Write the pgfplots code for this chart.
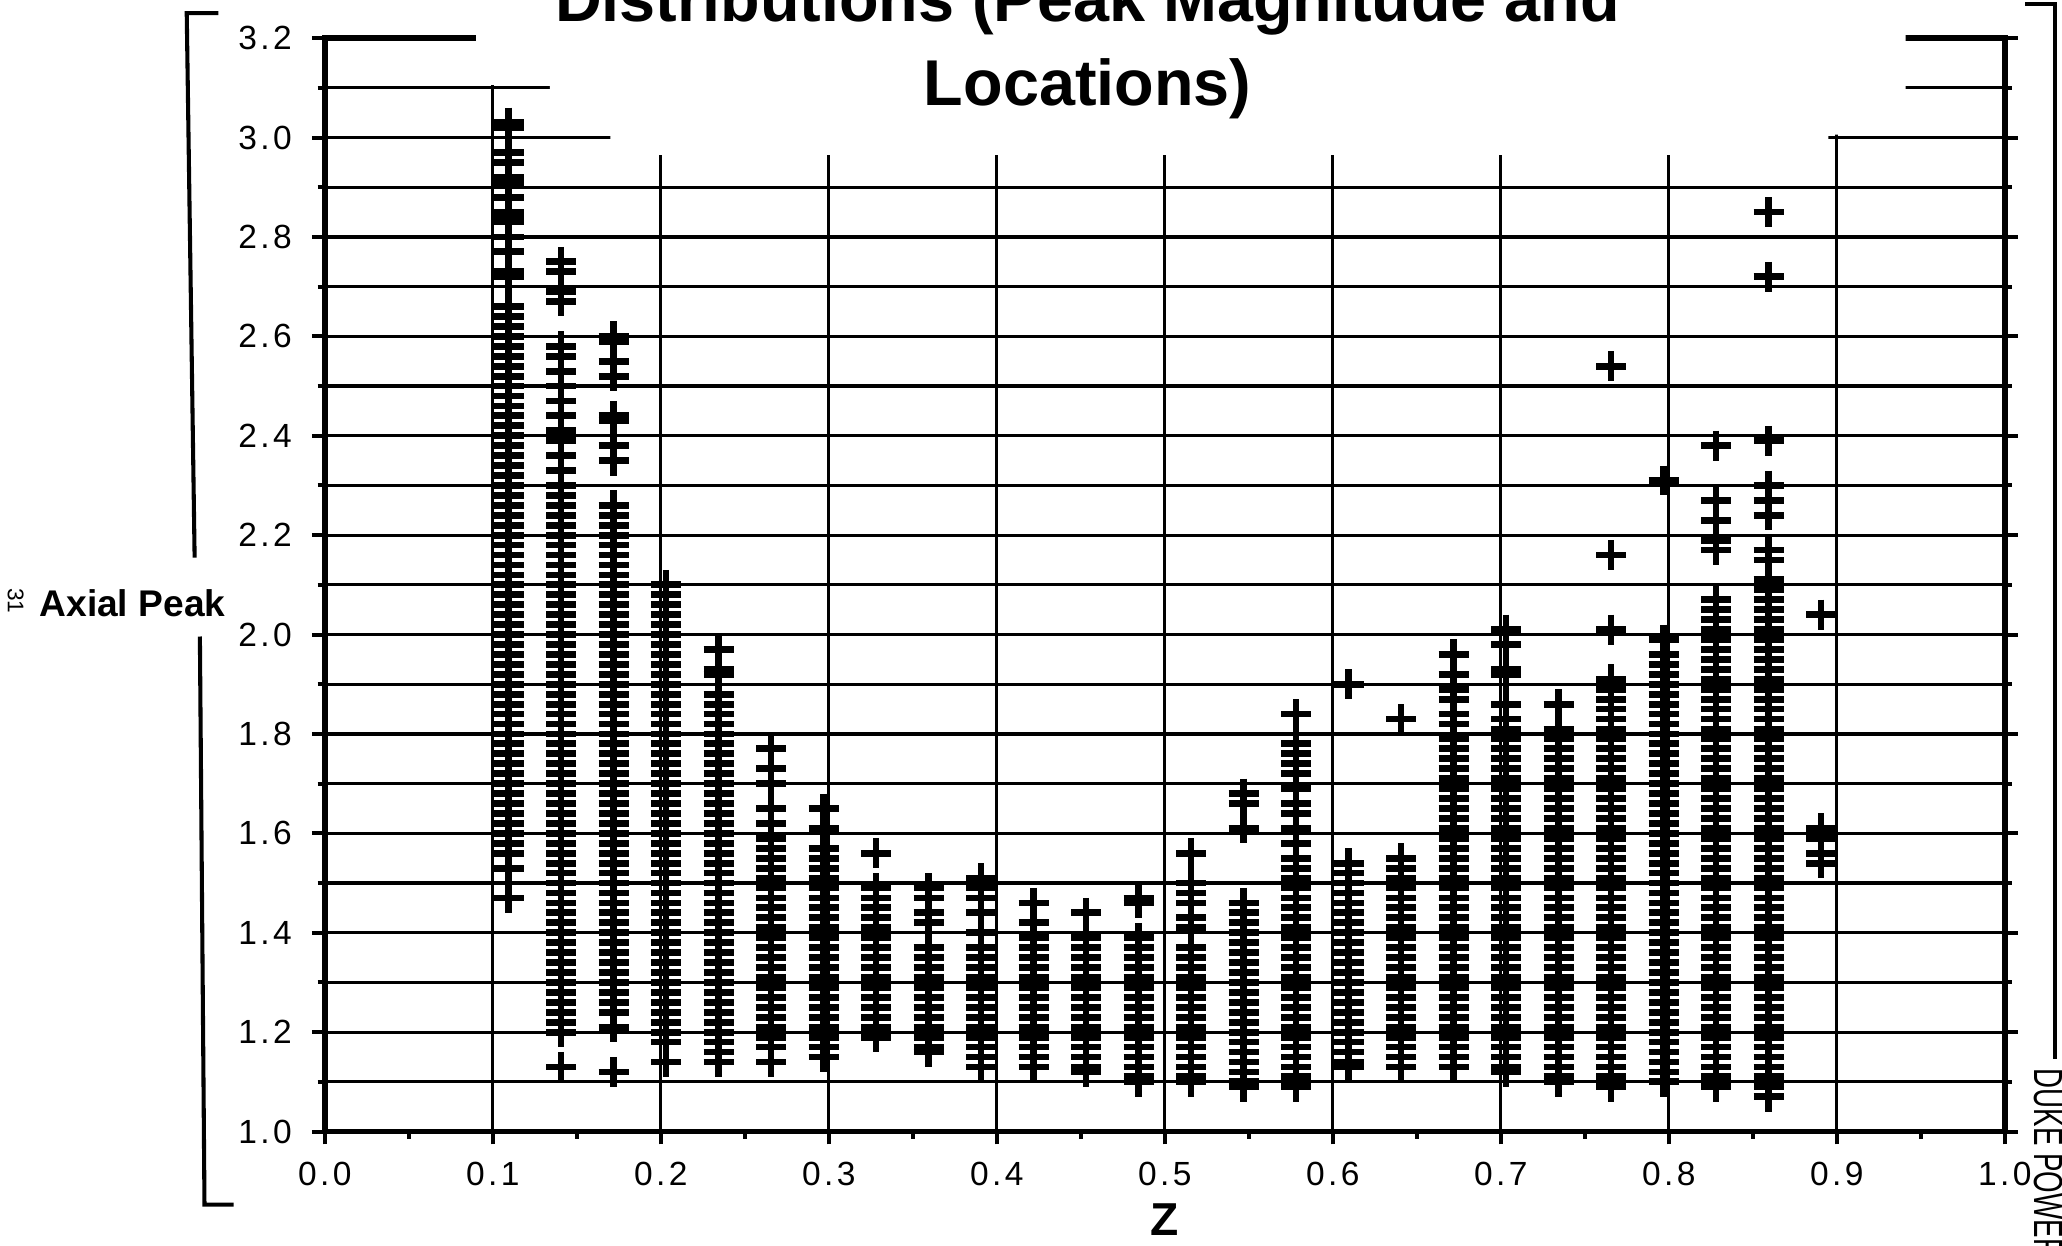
\documentclass[border=0pt]{standalone}
\usepackage{pgfplots}
\pgfplotsset{compat=1.18}
\usepackage{fontspec}
\setmainfont{Liberation Sans}
\newfontfamily\tickfont[LetterSpace=10]{Liberation Sans}
\pgfplotsset{col/.style={only marks, mark=+, mark size=3.3pt, black, mark options={line width=1.5pt}}}
\newcommand{\col}[2]{\addplot[col] table[row sep=\\, header=false, x expr=#1, y index=0] {#2};}
\begin{document}
\begin{tikzpicture}
\begin{axis}[
  scale only axis, width=13.04cm, height=8.487cm,
  xmin=0, xmax=1, ymin=1, ymax=3.2,
  clip=false,
  xtick={0,0.1,0.2,0.3,0.4,0.5,0.6,0.7,0.8,0.9,1},
  xticklabels={0.0,0.1,0.2,0.3,0.4,0.5,0.6,0.7,0.8,0.9,1.0},
  ytick={1,1.2,1.4,1.6,1.8,2,2.2,2.4,2.6,2.8,3,3.2},
  yticklabels={1.0,1.2,1.4,1.6,1.8,2.0,2.2,2.4,2.6,2.8,3.0,3.2},
  minor x tick num=1, minor y tick num=1,
  xmajorgrids, ymajorgrids, yminorgrids,
  major grid style={line width=0.7pt, black},
  minor grid style={line width=0.7pt, black},
  tick align=outside,
  xtick pos=left, ytick pos=both,
  major tick length=0.1cm, minor tick length=0.055cm,
  every tick/.style={line width=0.9pt, black},
  axis line style={line width=1.2pt},
  tick label style={font=\fontsize{7.4}{8}\tickfont},
  xticklabel style={anchor=north, inner sep=0pt, yshift=-0.13cm},
  yticklabel style={anchor=east, inner sep=0pt, xshift=-0.15cm},
  xlabel={Z}, ylabel={Axial Peak},
  every axis x label/.style={at={(rel axis cs:0.5,0)}, anchor=base, inner sep=0pt, yshift=-0.806cm, font=\fontsize{10.2}{12}\selectfont\bfseries},
  every axis y label/.style={at={(rel axis cs:0,0.4712)}, anchor=base east, inner sep=0pt, xshift=-0.765cm, font=\fontsize{8.2}{10}\selectfont\bfseries},
]
\fill[white] (axis cs:0.09,3.35) -- (axis cs:0.09,3.106) -- (axis cs:0.134,3.106) -- (axis cs:0.134,3.006) -- (axis cs:0.17,3.006) -- (axis cs:0.17,2.965) -- (axis cs:0.895,2.965) -- (axis cs:0.895,3.006) -- (axis cs:0.941,3.006) -- (axis cs:0.941,3.35) -- cycle;
\col{0.1094}{3.03\\3.02\\2.97\\2.95\\2.92\\2.91\\2.88\\2.85\\2.84\\2.83\\2.80\\2.77\\2.73\\2.72\\2.66\\2.64\\2.62\\2.60\\2.58\\2.56\\2.54\\2.52\\2.50\\2.48\\2.46\\2.44\\2.42\\2.40\\2.38\\2.36\\2.34\\2.32\\2.30\\2.28\\2.26\\2.24\\2.22\\2.20\\2.18\\2.16\\2.14\\2.12\\2.10\\2.08\\2.06\\2.04\\2.02\\2.00\\1.98\\1.96\\1.94\\1.92\\1.90\\1.88\\1.86\\1.84\\1.82\\1.80\\1.78\\1.76\\1.74\\1.72\\1.70\\1.68\\1.66\\1.64\\1.62\\1.60\\1.58\\1.56\\1.53\\1.47\\}
\col{0.1406}{2.75\\2.73\\2.69\\2.67\\2.58\\2.56\\2.53\\2.50\\2.47\\2.44\\2.41\\2.39\\2.36\\2.33\\2.30\\2.28\\2.26\\2.24\\2.22\\2.20\\2.18\\2.16\\2.14\\2.12\\2.10\\2.08\\2.06\\2.04\\2.02\\2.00\\1.98\\1.96\\1.94\\1.92\\1.90\\1.88\\1.86\\1.84\\1.82\\1.80\\1.78\\1.76\\1.74\\1.72\\1.70\\1.68\\1.66\\1.64\\1.62\\1.60\\1.58\\1.56\\1.54\\1.52\\1.50\\1.48\\1.46\\1.44\\1.42\\1.40\\1.38\\1.36\\1.34\\1.32\\1.30\\1.28\\1.26\\1.24\\1.22\\1.20\\1.13\\}
\col{0.1719}{2.60\\2.59\\2.55\\2.52\\2.44\\2.43\\2.38\\2.35\\2.26\\2.24\\2.22\\2.20\\2.18\\2.16\\2.14\\2.12\\2.10\\2.08\\2.06\\2.04\\2.02\\2.00\\1.98\\1.96\\1.94\\1.92\\1.90\\1.88\\1.86\\1.84\\1.82\\1.80\\1.78\\1.76\\1.74\\1.72\\1.70\\1.68\\1.66\\1.64\\1.62\\1.60\\1.58\\1.56\\1.54\\1.52\\1.50\\1.48\\1.46\\1.44\\1.42\\1.40\\1.38\\1.36\\1.34\\1.32\\1.30\\1.28\\1.26\\1.24\\1.21\\1.12\\}
\col{0.2031}{2.10\\2.08\\2.06\\2.04\\2.02\\2.00\\1.98\\1.96\\1.94\\1.92\\1.90\\1.88\\1.86\\1.84\\1.82\\1.80\\1.78\\1.76\\1.74\\1.72\\1.70\\1.68\\1.66\\1.64\\1.62\\1.60\\1.58\\1.56\\1.54\\1.52\\1.50\\1.48\\1.46\\1.44\\1.42\\1.40\\1.38\\1.36\\1.34\\1.32\\1.30\\1.28\\1.26\\1.24\\1.22\\1.20\\1.18\\1.14\\}
\col{0.2344}{1.97\\1.93\\1.92\\1.88\\1.86\\1.84\\1.82\\1.80\\1.78\\1.76\\1.74\\1.72\\1.70\\1.68\\1.66\\1.64\\1.62\\1.60\\1.58\\1.56\\1.54\\1.52\\1.50\\1.48\\1.46\\1.44\\1.42\\1.40\\1.38\\1.36\\1.34\\1.32\\1.30\\1.28\\1.26\\1.24\\1.22\\1.20\\1.18\\1.16\\1.14\\}
\col{0.2656}{1.77\\1.73\\1.70\\1.65\\1.62\\1.59\\1.57\\1.55\\1.53\\1.51\\1.49\\1.47\\1.45\\1.43\\1.41\\1.39\\1.37\\1.35\\1.33\\1.31\\1.29\\1.27\\1.25\\1.23\\1.21\\1.19\\1.17\\1.14\\}
\col{0.2969}{1.65\\1.61\\1.57\\1.55\\1.53\\1.51\\1.49\\1.47\\1.45\\1.43\\1.41\\1.39\\1.37\\1.35\\1.33\\1.31\\1.29\\1.27\\1.25\\1.23\\1.21\\1.19\\1.17\\1.15\\}
\col{0.3281}{1.56\\1.49\\1.47\\1.45\\1.43\\1.41\\1.39\\1.37\\1.35\\1.33\\1.31\\1.29\\1.27\\1.25\\1.23\\1.21\\1.19\\}
\col{0.3594}{1.49\\1.47\\1.44\\1.42\\1.37\\1.35\\1.33\\1.31\\1.29\\1.27\\1.25\\1.23\\1.21\\1.19\\1.17\\1.16\\}
\col{0.3906}{1.51\\1.49\\1.47\\1.44\\1.40\\1.37\\1.35\\1.33\\1.31\\1.29\\1.27\\1.25\\1.23\\1.21\\1.19\\1.17\\1.15\\1.13\\}
\col{0.4219}{1.46\\1.42\\1.39\\1.37\\1.35\\1.33\\1.31\\1.29\\1.27\\1.25\\1.23\\1.21\\1.19\\1.17\\1.15\\1.13\\}
\col{0.4531}{1.44\\1.39\\1.37\\1.35\\1.33\\1.31\\1.29\\1.27\\1.25\\1.23\\1.21\\1.19\\1.17\\1.15\\1.13\\1.12\\}
\col{0.4844}{1.47\\1.46\\1.39\\1.37\\1.35\\1.33\\1.31\\1.29\\1.27\\1.25\\1.23\\1.21\\1.19\\1.17\\1.15\\1.13\\1.11\\1.10\\}
\col{0.5156}{1.56\\1.50\\1.48\\1.46\\1.43\\1.41\\1.37\\1.35\\1.33\\1.31\\1.29\\1.27\\1.25\\1.23\\1.21\\1.19\\1.17\\1.15\\1.13\\1.11\\1.10\\}
\col{0.5469}{1.68\\1.66\\1.61\\1.46\\1.44\\1.42\\1.40\\1.38\\1.36\\1.34\\1.32\\1.30\\1.28\\1.26\\1.24\\1.22\\1.20\\1.18\\1.16\\1.14\\1.12\\1.10\\1.09\\}
\col{0.5781}{1.84\\1.78\\1.76\\1.74\\1.72\\1.69\\1.66\\1.64\\1.61\\1.58\\1.55\\1.53\\1.51\\1.49\\1.47\\1.45\\1.43\\1.41\\1.39\\1.37\\1.35\\1.33\\1.31\\1.29\\1.27\\1.25\\1.23\\1.21\\1.19\\1.17\\1.15\\1.13\\1.11\\1.09\\}
\col{0.6094}{1.90\\1.54\\1.52\\1.50\\1.48\\1.46\\1.44\\1.42\\1.40\\1.38\\1.36\\1.34\\1.32\\1.30\\1.28\\1.26\\1.24\\1.22\\1.20\\1.18\\1.16\\1.14\\1.13\\}
\col{0.6406}{1.83\\1.55\\1.53\\1.51\\1.49\\1.47\\1.45\\1.43\\1.41\\1.39\\1.37\\1.35\\1.33\\1.31\\1.29\\1.27\\1.25\\1.23\\1.21\\1.19\\1.17\\1.15\\1.13\\}
\col{0.6719}{1.96\\1.92\\1.89\\1.87\\1.84\\1.82\\1.79\\1.77\\1.75\\1.73\\1.71\\1.69\\1.67\\1.65\\1.63\\1.61\\1.59\\1.57\\1.55\\1.53\\1.51\\1.49\\1.47\\1.45\\1.43\\1.41\\1.39\\1.37\\1.35\\1.33\\1.31\\1.29\\1.27\\1.25\\1.23\\1.21\\1.19\\1.17\\1.15\\1.13\\}
\col{0.7031}{2.01\\1.98\\1.93\\1.92\\1.86\\1.83\\1.81\\1.79\\1.77\\1.75\\1.73\\1.71\\1.69\\1.67\\1.65\\1.63\\1.61\\1.59\\1.57\\1.55\\1.53\\1.51\\1.49\\1.47\\1.45\\1.43\\1.41\\1.39\\1.37\\1.35\\1.33\\1.31\\1.29\\1.27\\1.25\\1.23\\1.21\\1.19\\1.17\\1.15\\1.13\\1.12\\}
\col{0.7344}{1.86\\1.81\\1.79\\1.77\\1.75\\1.73\\1.71\\1.69\\1.67\\1.65\\1.63\\1.61\\1.59\\1.57\\1.55\\1.53\\1.51\\1.49\\1.47\\1.45\\1.43\\1.41\\1.39\\1.37\\1.35\\1.33\\1.31\\1.29\\1.27\\1.25\\1.23\\1.21\\1.19\\1.17\\1.15\\1.13\\1.11\\1.10\\}
\col{0.7656}{2.54\\2.16\\2.01\\1.91\\1.89\\1.87\\1.85\\1.83\\1.81\\1.79\\1.77\\1.75\\1.73\\1.71\\1.69\\1.67\\1.65\\1.63\\1.61\\1.59\\1.57\\1.55\\1.53\\1.51\\1.49\\1.47\\1.45\\1.43\\1.41\\1.39\\1.37\\1.35\\1.33\\1.31\\1.29\\1.27\\1.25\\1.23\\1.21\\1.19\\1.17\\1.15\\1.13\\1.11\\1.09\\}
\col{0.7969}{2.31\\1.99\\1.96\\1.94\\1.92\\1.90\\1.88\\1.86\\1.84\\1.82\\1.80\\1.78\\1.76\\1.74\\1.72\\1.70\\1.68\\1.66\\1.64\\1.62\\1.60\\1.58\\1.56\\1.54\\1.52\\1.50\\1.48\\1.46\\1.44\\1.42\\1.40\\1.38\\1.36\\1.34\\1.32\\1.30\\1.28\\1.26\\1.24\\1.22\\1.20\\1.18\\1.16\\1.14\\1.12\\1.10\\}
\col{0.8281}{2.38\\2.27\\2.23\\2.19\\2.17\\2.07\\2.05\\2.03\\2.01\\1.99\\1.97\\1.95\\1.93\\1.91\\1.89\\1.87\\1.85\\1.83\\1.81\\1.79\\1.77\\1.75\\1.73\\1.71\\1.69\\1.67\\1.65\\1.63\\1.61\\1.59\\1.57\\1.55\\1.53\\1.51\\1.49\\1.47\\1.45\\1.43\\1.41\\1.39\\1.37\\1.35\\1.33\\1.31\\1.29\\1.27\\1.25\\1.23\\1.21\\1.19\\1.17\\1.15\\1.13\\1.11\\1.09\\}
\col{0.8594}{2.85\\2.72\\2.39\\2.30\\2.27\\2.24\\2.17\\2.15\\2.11\\2.09\\2.07\\2.05\\2.03\\2.01\\1.99\\1.97\\1.95\\1.93\\1.91\\1.89\\1.87\\1.85\\1.83\\1.81\\1.79\\1.77\\1.75\\1.73\\1.71\\1.69\\1.67\\1.65\\1.63\\1.61\\1.59\\1.57\\1.55\\1.53\\1.51\\1.49\\1.47\\1.45\\1.43\\1.41\\1.39\\1.37\\1.35\\1.33\\1.31\\1.29\\1.27\\1.25\\1.23\\1.21\\1.19\\1.17\\1.15\\1.13\\1.11\\1.09\\1.07\\}
\col{0.8906}{2.04\\1.61\\1.59\\1.56\\1.54\\}
\end{axis}
\begin{scope}[shift={(current axis.north west)}, x=0.010204cm, y=-0.010204cm, shift={(-247,-29)}]
\node[anchor=base, font=\fontsize{14.3}{17}\selectfont\bfseries, inner sep=0pt] at (827,16.5) {Distributions (Peak Magnitude and};
\node[anchor=base, font=\fontsize{14.3}{17}\selectfont\bfseries, inner sep=0pt] at (827,80) {Locations)};
\draw[line width=0.9pt] (166,10) -- (142,10) -- (148,424);
\draw[line width=0.9pt] (152,484) -- (155.5,916) -- (177.6,916);
\draw[line width=0.9pt] (1540,3) -- (1563,3) -- (1563,805);
\node[rotate=-90, anchor=base west, inner sep=0pt, font=\fontsize{9}{10}\selectfont] at (1547,812) {\scalebox{0.68}[1]{DUKE POWER}};
\node[rotate=-90, anchor=center, inner sep=0pt, font=\fontsize{5}{6}\selectfont] at (12,457) {31};
\pgfresetboundingbox
\path[use as bounding box] (0,0) rectangle (1568,947);
\end{scope}
\end{tikzpicture}
\end{document}
